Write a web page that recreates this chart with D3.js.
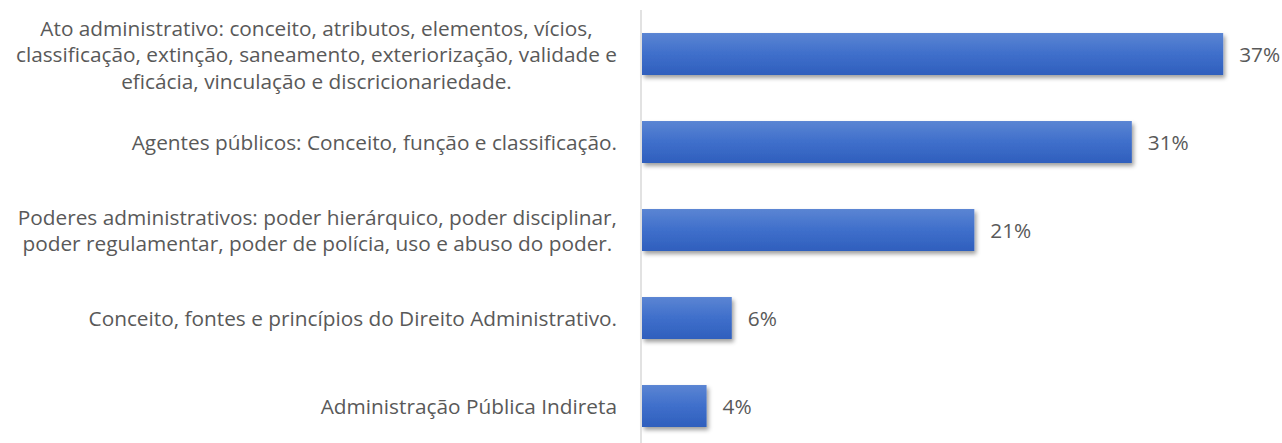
<!DOCTYPE html>
<html>
<head>
<meta charset="utf-8">
<script src="https://cdn.jsdelivr.net/npm/d3@7"></script>
<style>
  html, body { margin: 0; padding: 0; background: #fff; }
  svg { display: block; }
</style>
</head>
<body>
<svg id="chart" width="1282" height="443"></svg>
<script>
const categories = [
  "Ato administrativo",
  "Agentes públicos",
  "Poderes administrativos",
  "Conceito, fontes e princípios",
  "Administração Pública Indireta"
];
const categoryLines = [
  ["Ato administrativo: conceito, atributos, elementos, vícios,",
   "classificação, extinção, saneamento, exteriorização, validade e",
   "eficácia, vinculação e discricionariedade."],
  ["Agentes públicos: Conceito, função e classificação."],
  ["Poderes administrativos: poder hierárquico, poder disciplinar,",
   "poder regulamentar, poder de polícia, uso e abuso do poder."],
  ["Conceito, fontes e princípios do Direito Administrativo."],
  ["Administração Pública Indireta"]
];
const values = [0.369, 0.311, 0.211, 0.057, 0.041];

const W = 1282, H = 443;
const axisX = 641;
const labelRight = 617;
const font = "'Open Sans', 'Noto Sans', sans-serif";
const fontSize = 20.8;
const lineH = 26.5;
const textColor = "#595959";

const svg = d3.select("#chart");
const defs = svg.append("defs");
const grad = defs.append("linearGradient")
  .attr("id", "barGrad").attr("x1", 0).attr("y1", 0).attr("x2", 0).attr("y2", 1);
grad.append("stop").attr("offset", "0%").attr("stop-color", "#5b85d3");
grad.append("stop").attr("offset", "50%").attr("stop-color", "#3f6fcb");
grad.append("stop").attr("offset", "100%").attr("stop-color", "#2f5fbd");

const shadow = defs.append("filter").attr("id", "shadow")
  .attr("x", "-5%").attr("y", "-20%").attr("width", "115%").attr("height", "160%");
shadow.append("feDropShadow")
  .attr("dx", 2).attr("dy", 3).attr("stdDeviation", 2)
  .attr("flood-color", "#000").attr("flood-opacity", 0.38);

const y = d3.scaleBand()
  .domain(categories)
  .range([10, 450])
  .paddingInner(0.523)
  .paddingOuter(0.2615);

const x = d3.scaleLinear()
  .domain([0, 0.4])
  .range([axisX + 1, axisX + 1 + 630]);

// bars
svg.append("g").selectAll("rect")
  .data(categories)
  .join("rect")
  .attr("x", x(0))
  .attr("y", d => y(d))
  .attr("width", (d, i) => x(values[i]) - x(0))
  .attr("height", y.bandwidth())
  .attr("fill", "url(#barGrad)")
  .attr("filter", "url(#shadow)");

// axis line
svg.append("line")
  .attr("x1", axisX).attr("x2", axisX)
  .attr("y1", 10).attr("y2", H)
  .attr("stroke", "#d9d9d9").attr("stroke-width", 1.5);

// category labels: block right-aligned to the axis, lines centred within block
const lab = svg.append("g")
  .attr("font-family", font).attr("font-size", fontSize)
  .attr("fill", textColor).attr("text-anchor", "middle");
categories.forEach((c, i) => {
  const lines = categoryLines[i];
  const cy = y(c) + y.bandwidth() / 2;
  const t = lab.append("text")
    .attr("y", cy - (lines.length - 1) * lineH / 2)
    .attr("dominant-baseline", "central");
  const spans = lines.map((ln, j) =>
    t.append("tspan").attr("dy", j === 0 ? 0 : lineH).text(ln));
  const maxW = d3.max(spans, s => s.node().getComputedTextLength());
  const cx = labelRight - maxW / 2;
  spans.forEach(s => s.attr("x", cx));
});

// value labels
const fmt = d3.format(".0%");
svg.append("g")
  .attr("font-family", font).attr("font-size", fontSize)
  .attr("fill", textColor)
  .selectAll("text")
  .data(categories)
  .join("text")
  .attr("x", (d, i) => x(values[i]) + 16)
  .attr("y", d => y(d) + y.bandwidth() / 2)
  .attr("dominant-baseline", "central")
  .text((d, i) => fmt(values[i]));
</script>
</body>
</html>
